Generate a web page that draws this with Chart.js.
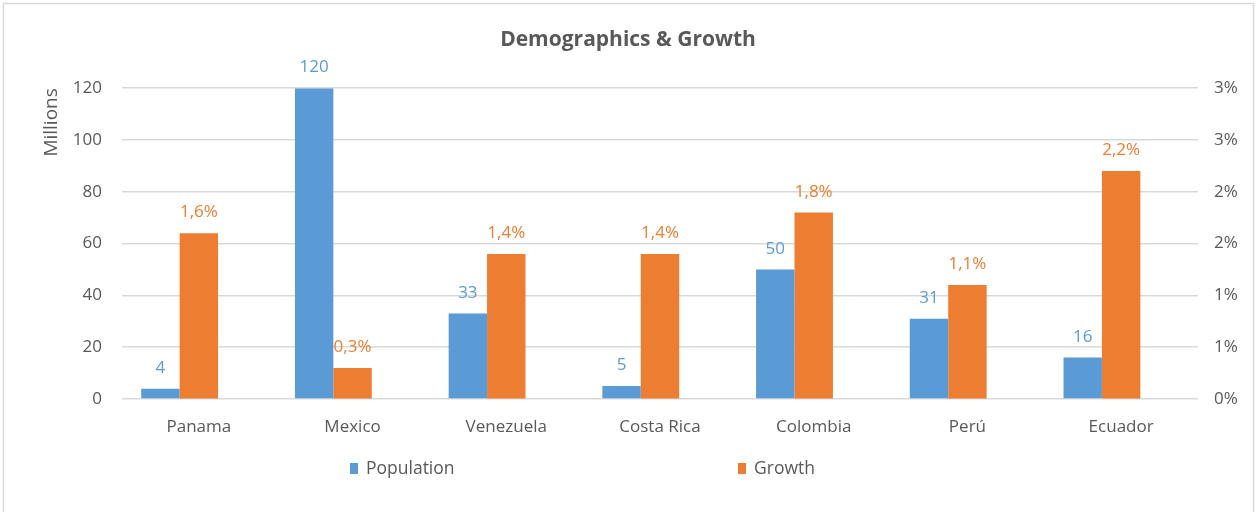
<!DOCTYPE html>
<html>
<head>
<meta charset="utf-8">
<script src="https://cdn.jsdelivr.net/npm/chart.js@4/dist/chart.umd.min.js"></script>
<style>
  html, body { margin: 0; padding: 0; background: #fff; }
  #box { position: relative; width: 1256px; height: 512px; }
</style>
</head>
<body>
<div id="box"><canvas id="demo"></canvas></div>
<script>
const countries = ['Panama', 'Mexico', 'Venezuela', 'Costa Rica', 'Colombia', 'Perú', 'Ecuador'];
const population = [4, 120, 33, 5, 50, 31, 16];      // millions
const growth = [1.6, 0.3, 1.4, 1.4, 1.8, 1.1, 2.2];  // percent
const growthTicks = ['0%', '1%', '1%', '2%', '2%', '3%', '3%'];

const BLUE = '#5b9bd5';
const ORANGE = '#ed7d31';
const GREY = '#595959';
const FONT = '"Open Sans", Lato, sans-serif';

function pct(v) {
  return v.toFixed(1).replace('.', ',') + '%';
}

// outer frame
const frame = {
  id: 'frame',
  beforeDraw(chart) {
    const ctx = chart.ctx;
    ctx.save();
    ctx.strokeStyle = '#d9d9d9';
    ctx.lineWidth = 1.5;
    ctx.strokeRect(3.5, 3.5, chart.width - 6, chart.height + 10);
    ctx.restore();
  }
};

// value labels over the bars
const barLabels = {
  id: 'barLabels',
  afterDatasetsDraw(chart) {
    const ctx = chart.ctx;
    ctx.save();
    ctx.font = '17px ' + FONT;
    ctx.textAlign = 'center';
    ctx.textBaseline = 'alphabetic';
    chart.data.datasets.forEach((ds, i) => {
      if (!ds.label) return;
      const meta = chart.getDatasetMeta(i);
      ctx.fillStyle = ds.backgroundColor;
      meta.data.forEach((bar, j) => {
        const v = ds.data[j];
        const txt = ds.yAxisID === 'y1' ? pct(v) : String(v);
        ctx.fillText(txt, bar.x, bar.y - 16);
      });
    });
    ctx.restore();
  }
};

// wide two-entry legend under the axis
const wideLegend = {
  id: 'wideLegend',
  afterDraw(chart) {
    const ctx = chart.ctx;
    const area = chart.chartArea;
    const y = area.bottom + 70;
    const centre = (area.left + area.right) / 2;
    const offsets = [-310, 78];
    const items = chart.data.datasets.filter(d => d.label);
    ctx.save();
    ctx.font = '17.5px ' + FONT;
    ctx.textBaseline = 'middle';
    ctx.textAlign = 'left';
    items.forEach((ds, k) => {
      const x = centre + offsets[k];
      ctx.fillStyle = ds.backgroundColor;
      ctx.fillRect(x, y - 6, 8, 11);
      ctx.fillStyle = GREY;
      ctx.fillText(ds.label, x + 16, y);
    });
    ctx.restore();
  }
};

const data = {
  labels: countries,
  datasets: [
    { label: 'Population', data: population, backgroundColor: BLUE, yAxisID: 'y' },
    { label: 'Growth', data: growth, backgroundColor: ORANGE, yAxisID: 'y1' },
    // empty slot so each growth bar sits on its category centre
    { label: '', data: countries.map(() => null), backgroundColor: 'rgba(0,0,0,0)', yAxisID: 'y' }
  ]
};

const config = {
  type: 'bar',
  data: data,
  options: {
    responsive: false,
    animation: false,
    categoryPercentage: 0.75,
    barPercentage: 1.0,
    layout: { padding: { left: 0, right: 0, top: 27, bottom: 0 } },
    plugins: {
      legend: { display: false },
      tooltip: { enabled: false },
      title: {
        display: true,
        text: 'Demographics & Growth',
        color: GREY,
        font: { family: FONT, size: 21, weight: 'bold' },
        padding: { top: 0, bottom: 36 }
      }
    },
    scales: {
      x: {
        grid: { display: false },
        border: { display: false },
        ticks: { color: GREY, font: { family: FONT, size: 17 }, padding: 10 },
        afterFit: s => { s.height = 113; }
      },
      y: {
        position: 'left',
        min: 0,
        max: 120,
        ticks: { stepSize: 20, color: GREY, font: { family: FONT, size: 17 }, padding: 20 },
        grid: { color: '#d9d9d9', lineWidth: 1.5, drawTicks: false },
        border: { display: false },
        title: {
          display: true,
          text: 'Millions',
          align: 'end',
          color: GREY,
          font: { family: FONT, size: 19 },
          padding: { top: 40, bottom: 0 }
        },
        afterFit: s => { s.width = 122; }
      },
      y1: {
        position: 'right',
        min: 0,
        max: 3,
        ticks: {
          stepSize: 0.5,
          color: GREY,
          font: { family: FONT, size: 17 },
          padding: 16,
          callback: (v, i) => growthTicks[i]
        },
        grid: { drawOnChartArea: false, drawTicks: false },
        border: { display: false },
        afterFit: s => { s.width = 58; }
      }
    }
  },
  plugins: [frame, barLabels, wideLegend]
};

const canvas = document.getElementById('demo');
canvas.width = 1256;
canvas.height = 512;
const chart = new Chart(canvas, config);
</script>
</body>
</html>
